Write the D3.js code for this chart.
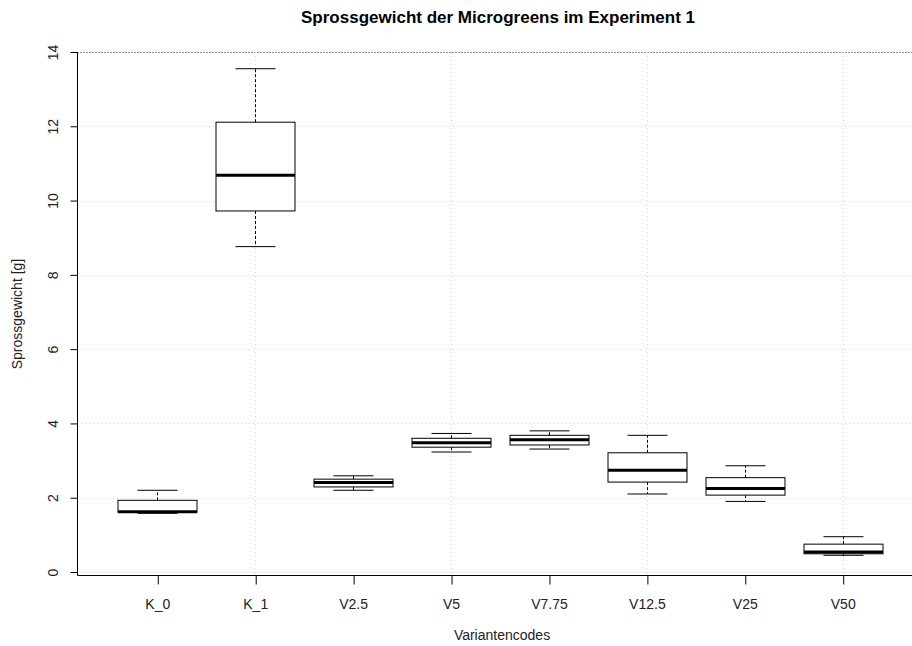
<!DOCTYPE html>
<html>
<head>
<meta charset="utf-8">
<script src="https://cdn.jsdelivr.net/npm/d3@7"></script>
<style>
  body { margin: 0; background: #fff; }
  svg { font-family: "Liberation Sans", Arial, sans-serif; }
  .grid { stroke: #d3d3d3; stroke-dasharray: 1, 3; }
  .box { fill: #fff; stroke: #000; }
  .whisker { stroke: #000; stroke-dasharray: 3, 2; }
  .cap { stroke: #000; }
  .median { stroke: #000; stroke-width: 3; }
</style>
</head>
<body>
<svg width="912" height="646"></svg>
<script>
// Variantencodes und Boxplot-Statistiken
const categories = ["K_0", "K_1", "V2.5", "V5", "V7.75", "V12.5", "V25", "V50"];
const whiskerLow = [1.58, 8.76, 2.20, 3.23, 3.31, 2.10, 1.90, 0.45];
const q1 = [1.61, 9.72, 2.29, 3.36, 3.42, 2.42, 2.07, 0.49];
const medians = [1.62, 10.68, 2.41, 3.48, 3.56, 2.74, 2.25, 0.54];
const q3 = [1.93, 12.11, 2.50, 3.60, 3.68, 3.21, 2.54, 0.75];
const whiskerHigh = [2.20, 13.55, 2.59, 3.73, 3.80, 3.68, 2.86, 0.95];
const yTicks = [0, 2, 4, 6, 8, 10, 12, 14];
const xGrid = [2, 4, 6, 8];

function drawChart() {
  const svg = d3.select("svg");
  const left = 77, right = 923, top = 52, bottom = 572, boxLine = 575;

  const x = d3.scaleLinear().domain([0.18, 8.82]).range([left, right]);
  const y = d3.scaleLinear().domain([0, 14]).range([bottom, top]);

  const boxes = categories.map((c, i) => ({
    name: c, pos: i + 1,
    lo: whiskerLow[i], q1: q1[i], med: medians[i], q3: q3[i], hi: whiskerHigh[i],
  }));

  // grid
  svg.append("g")
    .selectAll("line")
    .data(yTicks)
    .join("line")
    .attr("class", "grid")
    .attr("x1", left)
    .attr("x2", 912)
    .attr("y1", (d) => Math.round(y(d)) + 0.5)
    .attr("y2", (d) => Math.round(y(d)) + 0.5)
    .style("stroke", (d) => (d === 14 ? "#888" : null))
    .style("stroke-dasharray", (d) => (d === 14 ? "2,1" : null));
  svg.append("g")
    .selectAll("line")
    .data(xGrid)
    .join("line")
    .attr("class", "grid")
    .attr("x1", (d) => Math.round(x(d)) + 0.5)
    .attr("x2", (d) => Math.round(x(d)) + 0.5)
    .attr("y1", top)
    .attr("y2", boxLine);

  // boxplots
  const bw = 79, cw = 40;
  const g = svg.append("g")
    .selectAll("g")
    .data(boxes)
    .join("g")
    .attr("transform", (d) => `translate(${Math.round(x(d.pos)) + 0.5},0)`);

  g.append("line")
    .attr("class", "whisker")
    .attr("y1", (d) => y(d.q3))
    .attr("y2", (d) => y(d.hi));
  g.append("line")
    .attr("class", "whisker")
    .attr("y1", (d) => y(d.q1))
    .attr("y2", (d) => y(d.lo));
  g.append("line")
    .attr("class", "cap")
    .attr("x1", -cw / 2).attr("x2", cw / 2)
    .attr("y1", (d) => y(d.hi)).attr("y2", (d) => y(d.hi));
  g.append("line")
    .attr("class", "cap")
    .attr("x1", -cw / 2).attr("x2", cw / 2)
    .attr("y1", (d) => y(d.lo)).attr("y2", (d) => y(d.lo));
  g.append("rect")
    .attr("class", "box")
    .attr("x", -bw / 2)
    .attr("width", bw)
    .attr("y", (d) => y(d.q3))
    .attr("height", (d) => y(d.q1) - y(d.q3));
  g.append("line")
    .attr("class", "median")
    .attr("x1", -bw / 2).attr("x2", bw / 2)
    .attr("y1", (d) => y(d.med)).attr("y2", (d) => y(d.med));

  // y axis
  const yAxis = svg.append("g")
    .attr("transform", `translate(${left + 0.5},0)`)
    .call(d3.axisLeft(y).tickValues(yTicks).tickSize(7).tickSizeOuter(0));
  yAxis.select(".domain").remove();
  yAxis.selectAll(".tick text")
    .attr("transform", "rotate(-90)")
    .attr("x", 0)
    .attr("y", -20)
    .attr("dy", 0)
    .style("text-anchor", "middle")
    .style("font-size", "14px")
    .style("font-family", "Liberation Sans, Arial, sans-serif")
    .attr("fill", "#222");

  // x axis
  const xAxis = svg.append("g")
    .attr("transform", `translate(0,${boxLine + 0.5})`)
    .call(d3.axisBottom(x).tickValues(d3.range(1, 9)).tickFormat((d) => categories[d - 1]).tickSize(9).tickSizeOuter(0));
  xAxis.select(".domain").remove();
  xAxis.selectAll(".tick line").attr("transform", "translate(0.5,0)");
  xAxis.selectAll(".tick text")
    .attr("y", 33)
    .attr("dy", 0)
    .style("font-size", "14px")
    .style("font-family", "Liberation Sans, Arial, sans-serif")
    .attr("fill", "#222");

  // L-shaped box
  svg.append("path")
    .attr("d", `M${left + 0.5},${top}V${boxLine + 0.5}H912`)
    .attr("fill", "none")
    .attr("stroke", "#000");

  // titles
  svg.append("text")
    .attr("x", 498)
    .attr("y", 23)
    .attr("text-anchor", "middle")
    .style("font-size", "17px")
    .style("font-weight", "bold")
    .text("Sprossgewicht der Microgreens im Experiment 1");
  svg.append("text")
    .attr("x", 502)
    .attr("y", 640)
    .attr("text-anchor", "middle")
    .style("font-size", "14px")
    .attr("fill", "#222")
    .text("Variantencodes");
  svg.append("text")
    .attr("transform", "translate(22,314) rotate(-90)")
    .attr("text-anchor", "middle")
    .style("font-size", "14px")
    .attr("fill", "#222")
    .text("Sprossgewicht [g]");
}

drawChart();
</script>
</body>
</html>
